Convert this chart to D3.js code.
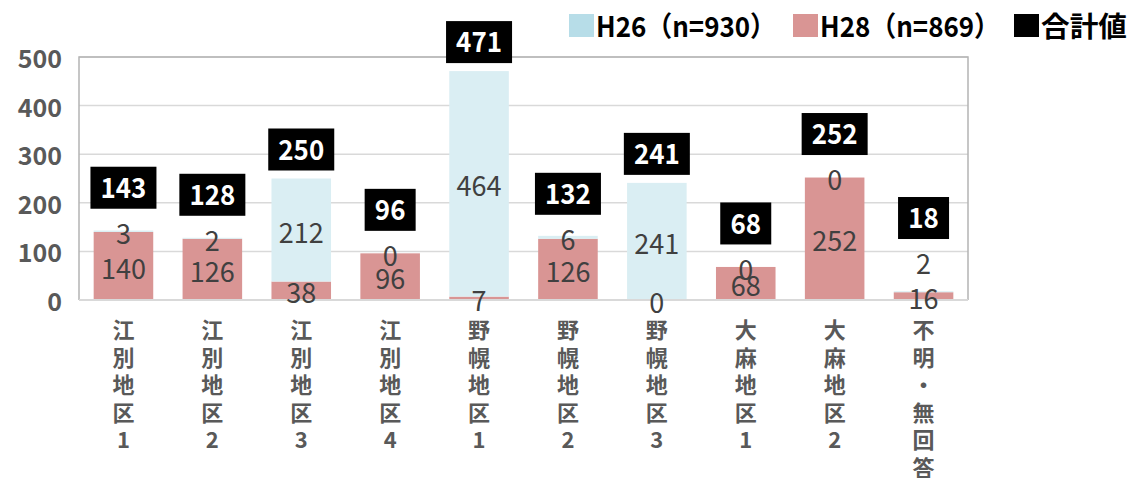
<!DOCTYPE html>
<html><head><meta charset="utf-8">
<script src="https://cdn.jsdelivr.net/npm/d3@7"></script>
<style>body{margin:0;background:#fff} svg{display:block}</style>
</head><body><svg id="c" width="1135" height="478"></svg>
<script>
const categories = ["江別地区1","江別地区2","江別地区3","江別地区4","野幌地区1","野幌地区2","野幌地区3","大麻地区1","大麻地区2","不明・無回答"];
const h26 = [3,2,212,0,464,6,241,0,0,2];
const h28 = [140,126,38,96,7,126,0,68,252,16];
const totals = [143,128,250,96,471,132,241,68,252,18];
const yTicks = [0,100,200,300,400,500];
const legendLabels = ["H26（n=930）","H28（n=869）","合計値"];

const FONT = "'Noto Sans CJK JP','Noto Sans',sans-serif";
const C26 = "#daeef3", C26L = "#b7dde8", C28 = "#d99594";
const svg = d3.select("#c").style("font-family", FONT);
const L = 79, R = 968, T = 57, B = 300;

const x = d3.scaleBand().domain(categories).range([L, R]).paddingInner(0.33).paddingOuter(0.165);
const y = d3.scaleLinear().domain([0, 500]).range([B, T]);

// gridlines
svg.append("g").selectAll("line").data(yTicks.filter(t => t > 0)).join("line")
  .attr("x1", L).attr("x2", R).attr("y1", d => y(d)).attr("y2", d => y(d))
  .attr("stroke", "#d9d9d9").attr("stroke-width", 1.5);
// border
svg.append("path").attr("d", `M${L},${B}V${T}H${R}V${B}`).attr("fill", "none")
  .attr("stroke", "#b4b4b4").attr("stroke-width", 1.5);

// y labels
svg.append("g").selectAll("text").data(yTicks).join("text")
  .attr("x", 62).attr("y", d => y(d) + 2).attr("dy", "0.36em")
  .attr("text-anchor", "end").attr("font-size", 25).attr("font-weight", "bold")
  .attr("fill", "#595959").text(d => d);

const rows = categories.map((c, i) => ({c, a: h28[i], b: h26[i], t: totals[i]}));

// bars
svg.append("g").selectAll("rect").data(rows).join("rect")
  .attr("x", d => x(d.c)).attr("width", x.bandwidth())
  .attr("y", d => y(d.a)).attr("height", d => y(0) - y(d.a)).attr("fill", C28);
svg.append("g").selectAll("rect").data(rows).join("rect")
  .attr("x", d => x(d.c)).attr("width", x.bandwidth())
  .attr("y", d => y(d.a + d.b)).attr("height", d => y(d.a) - y(d.a + d.b)).attr("fill", C26);

// axis line
svg.append("line").attr("x1", L).attr("x2", R).attr("y1", B).attr("y2", B)
  .attr("stroke", "#d9d9d9").attr("stroke-width", 2);

// segment labels
rows.forEach(d => {
  d.botY = y(d.a / 2) + 2.5;
  d.topY = y(d.a + d.b / 2) + 2.5;
  if (d.botY - d.topY < 12) d.topY = d.botY - 34.6;
});
const digitW = 15;
const lab = svg.append("g").attr("font-size", 28).attr("fill", "#404040").attr("text-anchor", "middle");
lab.selectAll("text.b").data(rows).join("text").attr("class", "b")
  .attr("x", d => x(d.c) + x.bandwidth() / 2).attr("y", d => d.botY).attr("dy", "0.36em")
  .attr("textLength", d => String(d.a).length * digitW).attr("lengthAdjust", "spacingAndGlyphs")
  .text(d => d.a);
lab.selectAll("text.t").data(rows).join("text").attr("class", "t")
  .attr("x", d => x(d.c) + x.bandwidth() / 2).attr("y", d => d.topY).attr("dy", "0.36em")
  .attr("textLength", d => String(d.b).length * digitW).attr("lengthAdjust", "spacingAndGlyphs")
  .text(d => d.b);

// total boxes
const tg = svg.append("g").selectAll("g").data(rows).join("g")
  .attr("transform", d => `translate(${x(d.c) + x.bandwidth() / 2},${Math.min(d.topY - 46, y(d.t) - 29)})`);
rows.forEach(d => { d.n = String(d.t).length; d.w = d.n * 15 + 21; });
tg.append("rect").attr("fill", "#000")
  .attr("x", d => -d.w / 2).attr("width", d => d.w).attr("y", -21).attr("height", 42);
tg.append("text").attr("text-anchor", "middle").attr("dy", "0.36em")
  .attr("font-size", 28).attr("font-weight", "bold").attr("fill", "#fff")
  .attr("textLength", d => d.n * 15.3).attr("lengthAdjust", "spacingAndGlyphs")
  .text(d => d.t);

// category labels (vertical)
const cg = svg.append("g").attr("font-size", 22).attr("font-weight", "bold").attr("fill", "#595959").attr("text-anchor", "middle");
rows.forEach(d => {
  Array.from(d.c).forEach((ch, k) => {
    cg.append("text").attr("x", x(d.c) + x.bandwidth() / 2).attr("y", 330 + k * 27.6)
      .attr("dy", "0.36em").text(ch);
  });
});

// legend
const legColors = [C26L, C28, "#000"];
const legX = [569, 793, 1014];
const legW = [180, 180, 86];
const lg = svg.append("g").selectAll("g").data(legendLabels).join("g")
  .attr("transform", (d, i) => `translate(${legX[i]},0)`);
lg.append("rect").attr("x", 0).attr("y", 14).attr("width", 25).attr("height", 23).attr("fill", (d, i) => legColors[i]);
lg.append("text").attr("x", 27).attr("y", 37).attr("font-size", 28).attr("font-weight", "bold")
  .attr("textLength", (d, i) => legW[i]).attr("lengthAdjust", "spacingAndGlyphs")
  .attr("fill", "#000").text(d => d);
</script></body></html>
